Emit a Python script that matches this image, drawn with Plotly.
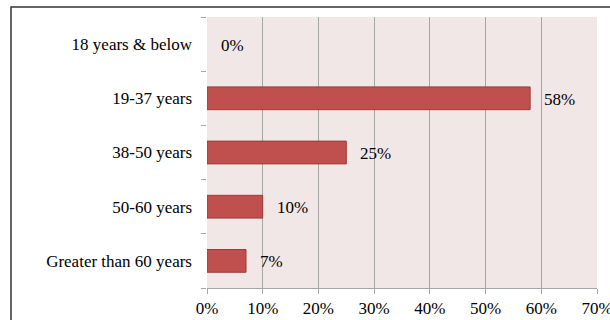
import plotly.graph_objects as go

categories = ["18 years & below", "19-37 years", "38-50 years", "50-60 years", "Greater than 60 years"]
values = [0, 58, 25, 10, 7]
tick_vals = [0, 10, 20, 30, 40, 50, 60, 70]
tick_text = [f"{v}%" for v in tick_vals]

font = dict(family="Liberation Serif, Times New Roman, serif", size=17, color="#000000")

fig = go.Figure()
fig.add_trace(go.Bar(
    y=categories, x=values, orientation="h",
    width=0.42,
    marker=dict(color="#C0504D",
                line=dict(color="#9C3B38", width=[0 if v == 0 else 1 for v in values])),
    hoverinfo="skip",
))

for c, v in zip(categories, values):
    fig.add_annotation(x=v, y=c, text=f"{v}%", showarrow=False,
                       xanchor="left", xshift=12, yshift=-1, font=font)

L, R, T, B = 207, 13, 17, 32
W, H = 610, 320
pw, ph = W - L - R, H - T - B
x0 = (11 - L) / pw
x1 = (W + 20 - L) / pw
y0 = -(B + 20) / ph
y1 = 1 + 10 / ph
fig.add_shape(type="path", xref="paper", yref="paper",
              path=f"M {x0},{y0} L {x0},{y1} L {x1},{y1}",
              line=dict(color="#333333", width=1.5), layer="below")

fig.update_layout(
    width=W, height=H,
    margin=dict(l=L, r=R, t=T, b=B, autoexpand=False),
    paper_bgcolor="#FFFFFF",
    plot_bgcolor="#F2E7E7",
    showlegend=False,
    font=font,
)
fig.update_xaxes(
    range=[0, 70], tickvals=tick_vals, ticktext=tick_text,
    showgrid=True, gridcolor="#A6A6A6", gridwidth=1,
    showline=True, linecolor="#A6A6A6", linewidth=1,
    ticks="outside", ticklen=5, tickcolor="#A6A6A6",
    ticklabelstandoff=0, zeroline=False, mirror=False,
    ticklabeloverflow="allow", automargin=False,
    tickfont=font, fixedrange=True,
)
fig.update_yaxes(
    categoryorder="array", categoryarray=categories[::-1],
    showgrid=False, showline=False, zeroline=False,
    ticks="outside", ticklen=5, tickcolor="#A6A6A6", tickson="boundaries",
    ticklabelstandoff=14, tickfont=font, fixedrange=True, automargin=False,
)

fig.write_html("out.html")
